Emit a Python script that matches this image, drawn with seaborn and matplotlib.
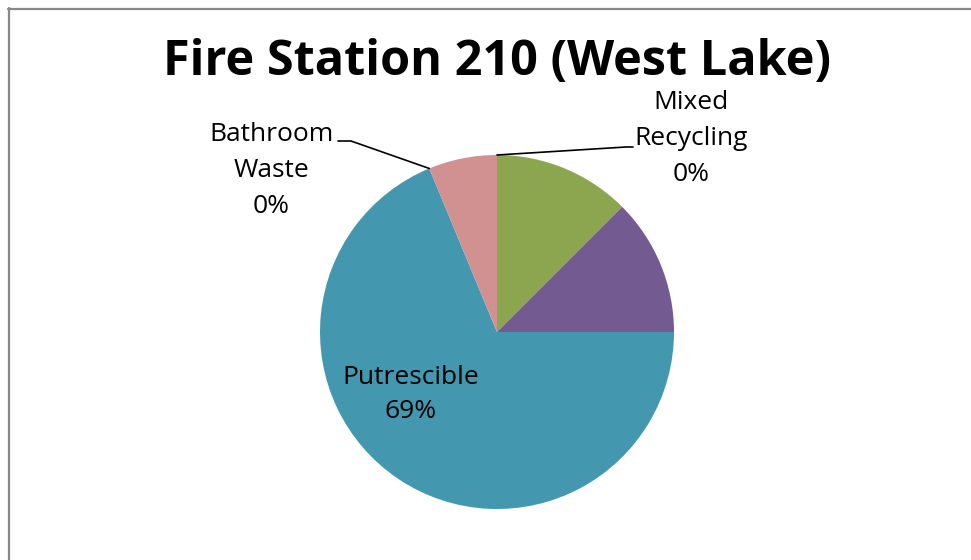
import matplotlib
matplotlib.use("Agg")
import matplotlib.pyplot as plt
from matplotlib.lines import Line2D
import numpy as np
import seaborn as sns

# ---- data ----
categories = ["Mixed Recycling", "Cardboard", "Paper", "Putrescible", "Bathroom Waste", "Other"]
values = [0.0, 12.5, 12.5, 68.75, 0.0, 6.25]
colors = ["#4F81BD", "#8BA64F", "#735A90", "#4398B0", "#C0504D", "#D09190"]
title = "Fire Station 210 (West Lake)"

sns.set_theme(style="white")
plt.rcParams["font.family"] = ["Open Sans", "DejaVu Sans"]

W, H = 971, 560
fig = plt.figure(figsize=(W / 100, H / 100), dpi=100)
ax = fig.add_axes([0, 0, 1, 1])

cx, cy, r = 497, H - 332, 177
wedges, _ = ax.pie(values, colors=colors, startangle=90, counterclock=False,
                   center=(cx, cy), radius=r, wedgeprops=dict(linewidth=0))
ax.set_xlim(0, W)
ax.set_ylim(0, H)
ax.set_aspect("equal")
ax.axis("off")

total = sum(values)
def pct(v):
    return f"{round(100 * v / total):d}%"

def edge_point(wedge, which):
    ang = np.deg2rad(wedge.theta1 if which == 1 else wedge.theta2)
    return cx + r * np.cos(ang), cy + r * np.sin(ang)

fs = 19
ls = 1.6
# Mixed Recycling (zero slice at top)
i = categories.index("Mixed Recycling")
px, py = edge_point(wedges[i], 2)
ax.text(691, H - 138.5, f"Mixed\nRecycling\n{pct(values[i])}", ha="center", va="center",
        fontsize=fs, linespacing=ls, color="black")
ax.plot([px, 626, 633], [py, H - 147, H - 147], color="black", lw=1.2)

# Bathroom Waste (zero slice between Putrescible and last)
i = categories.index("Bathroom Waste")
px, py = edge_point(wedges[i], 2)
ax.text(271, H - 170.5, f"Bathroom\nWaste\n{pct(values[i])}", ha="center", va="center",
        fontsize=fs, linespacing=ls, color="black")
ax.plot([338, 351, px], [H - 141, H - 141, py], color="black", lw=1.2)

# Putrescible
i = categories.index("Putrescible")
ax.text(411, H - 394.5, f"Putrescible\n{pct(values[i])}", ha="center", va="center",
        fontsize=fs, linespacing=1.5, color="black")

ax.text(497, H - 63, title, ha="center", va="center", fontsize=35,
        fontweight="bold", color="black")

# chart border (top and left edges visible)
fig.add_artist(Line2D([8 / W, 1], [1 - 8.5 / H, 1 - 8.5 / H], transform=fig.transFigure,
                      color="#888888", lw=1.6))
fig.add_artist(Line2D([8.5 / W, 8.5 / W], [0, 1 - 8 / H], transform=fig.transFigure,
                      color="#888888", lw=1.6))

fig.savefig("out.png", dpi=100, facecolor="white")
